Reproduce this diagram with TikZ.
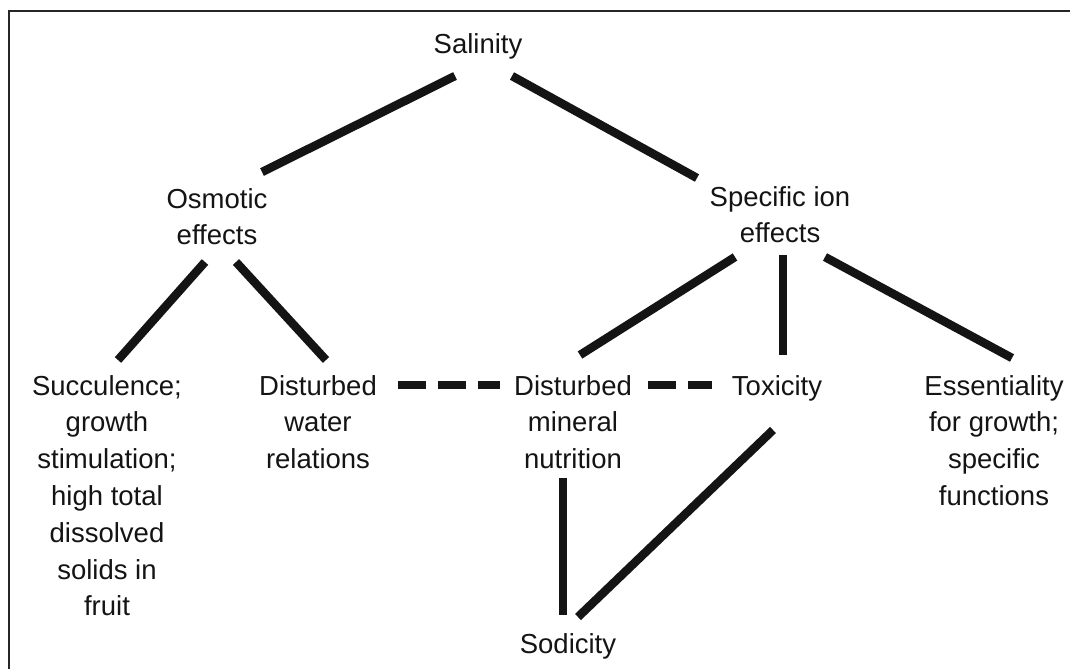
\documentclass[tikz,border=0pt]{standalone}
\usepackage{fontspec}
\setmainfont{Liberation Sans}
\usepackage{tikz}
\usetikzlibrary{calc}
\definecolor{inkdark}{gray}{0.08}
\definecolor{framegray}{gray}{0.15}

\begin{document}
\begin{tikzpicture}[x=1pt, y=-1pt,
    lbl/.style={anchor=north, inner sep=0pt, align=center, text=inkdark,
                font=\fontsize{27.5}{36.8}\selectfont},
    link/.style={draw=inkdark, line width=8.5pt, line cap=butt},
    dashlink/.style={link, line width=8pt, dash pattern=on 28pt off 12pt}]
    \useasboundingbox (0,0) rectangle (1070,669);
    \fill[white] (0,0) rectangle (1070,669);
    \draw[framegray, line width=2.5pt] (9,669) -- (9,11) -- (1070,11);
    % top levels
    \node[lbl] (sal) at (478,33) {Salinity};
    \node[lbl] (osm) at (217,188) {Osmotic\\effects};
    \node[lbl] (spec) at (780,186) {Specific ion\\effects};
    % second row
    \node[lbl] (succ) at (107,375) {Succulence;\\growth\\stimulation;\\high total\\dissolved\\solids in\\fruit};
    \node[lbl] (water) at (318,375) {Disturbed\\water\\relations};
    \node[lbl] (mineral) at (573,375) {Disturbed\\mineral\\nutrition};
    \node[lbl] (tox) at (777,375) {Toxicity};
    \node[lbl] (ess) at (994,375) {Essentiality\\for growth;\\specific\\functions};
    \node[lbl] (sod) at (568,633) {Sodicity};
    % connectors
    \draw[link] ($(sal.north)+(-23,43)$) -- ($(osm.north)+(45,-16)$);
    \draw[link] ($(sal.north)+(34,43)$) -- ($(spec.north)+(-83,-8)$);
    \draw[link] ($(osm.north)+(-12,74)$) -- ($(succ.north)+(11,-15)$);
    \draw[link] ($(osm.north)+(19,74)$) -- ($(water.north)+(8,-15)$);
    \draw[link] ($(spec.north)+(-45,71)$) -- ($(mineral.north)+(7,-20)$);
    \draw[link] ($(spec.north)+(3,69)$) -- ($(tox.north)+(6,-20)$);
    \draw[link] ($(spec.north)+(45,71)$) -- ($(ess.north)+(18,-17)$);
    \draw[dashlink] ($(water.north)+(80,10)$) -- ($(mineral.north)+(-73,10)$);
    \draw[dashlink] ($(mineral.north)+(75,10)$) -- ($(tox.north)+(-65,10)$);
    \draw[link] ($(mineral.north)+(-10,103)$) -- ($(sod.north)+(-5,-18)$);
    \draw[link] ($(tox.north)+(-4,55)$) -- ($(sod.north)+(10,-16)$);
\end{tikzpicture}
\end{document}
